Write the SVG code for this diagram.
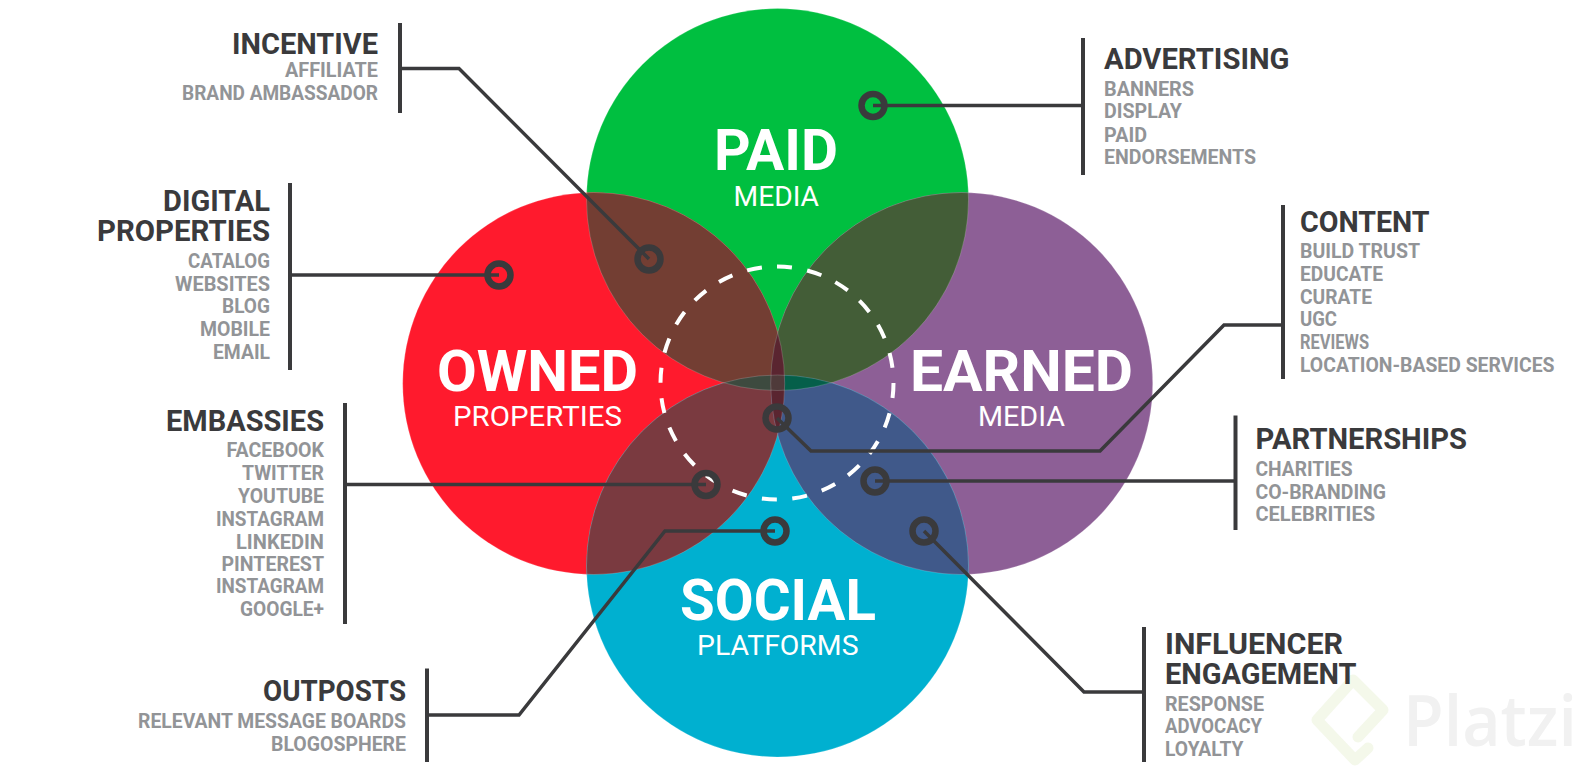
<svg xmlns="http://www.w3.org/2000/svg" width="1593" height="772" viewBox="0 0 1593 772">
<style>
text{font-family:Roboto,"Liberation Sans",sans-serif}
.h{font-size:29px;font-weight:700;fill:#3a3a3c}
.s{font-size:20px;font-weight:700;fill:#929497}
.b{font-size:58px;font-weight:700;fill:#fff}
.m{font-size:28px;font-weight:400;fill:#fff}
.l{fill:none;stroke:#3a3a3c;stroke-width:3.5}
.bar{fill:none;stroke:#3a3a3c;stroke-width:4}
.d{fill:none;stroke:#3a3a3c;stroke-width:6.5}
</style>
<defs>
<clipPath id="cPaid"><circle cx="777.5" cy="199.5" r="191"/></clipPath>
<clipPath id="cSocial"><circle cx="777.5" cy="566" r="191"/></clipPath>
<clipPath id="cOwned"><circle cx="593.7" cy="383.5" r="191"/></clipPath>
<clipPath id="cEarned"><circle cx="961.7" cy="383.5" r="191"/></clipPath>
</defs>
<rect width="1593" height="772" fill="#fff"/>
<g id="watermark">
<path d="M1368 748L1355 760L1317 720L1353 680L1383 710L1358 737" fill="none" stroke="#f4f8ea" stroke-width="11" stroke-linejoin="round" stroke-linecap="round"/>
<text x="1403" y="746" font-size="70" font-weight="600" textLength="174" lengthAdjust="spacingAndGlyphs" style="font-family:'Open Sans',sans-serif;fill:#f1f1f1">Platzi</text>
</g>
<g id="node-paid"><circle cx="777.5" cy="199.5" r="191" fill="#00bf40"/>
<text class="b" x="714" y="170" textLength="124" lengthAdjust="spacingAndGlyphs">PAID</text>
<text class="m" x="733.5" y="206" textLength="85.5" lengthAdjust="spacingAndGlyphs">MEDIA</text></g>
<g id="node-owned"><circle cx="593.7" cy="383.5" r="191" fill="#ff1a2d"/>
<text class="b" x="437" y="391" textLength="201" lengthAdjust="spacingAndGlyphs">OWNED</text>
<text class="m" x="453" y="426" textLength="169" lengthAdjust="spacingAndGlyphs">PROPERTIES</text></g>
<g id="node-earned"><circle cx="961.7" cy="383.5" r="191" fill="#8d5f96"/>
<text class="b" x="910" y="391" textLength="223" lengthAdjust="spacingAndGlyphs">EARNED</text>
<text class="m" x="978" y="426" textLength="87" lengthAdjust="spacingAndGlyphs">MEDIA</text></g>
<g id="node-social"><circle cx="777.5" cy="566" r="191" fill="#00b0d0"/>
<text class="b" x="680" y="620" textLength="196" lengthAdjust="spacingAndGlyphs">SOCIAL</text>
<text class="m" x="697" y="655" textLength="161.5" lengthAdjust="spacingAndGlyphs">PLATFORMS</text></g>
<g id="overlaps">
<g clip-path="url(#cPaid)"><circle cx="593.7" cy="383.5" r="191" fill="#733e33"/><circle cx="961.7" cy="383.5" r="191" fill="#435d37"/></g>
<g clip-path="url(#cSocial)"><circle cx="593.7" cy="383.5" r="191" fill="#7a3a40"/><circle cx="961.7" cy="383.5" r="191" fill="#40598a"/></g>
<g clip-path="url(#cOwned)"><circle cx="961.7" cy="383.5" r="191" fill="#5a2530"/></g>
<g clip-path="url(#cPaid)"><g clip-path="url(#cSocial)"><rect x="700" y="370" width="70.700" height="30" fill="#3d4a3f"/><rect x="770.700" y="370" width="14" height="30" fill="#4f3a3a"/><rect x="784.700" y="370" width="70" height="30" fill="#055f4a"/></g></g>
<g fill="none" stroke="#fff" stroke-opacity=".18">
<circle cx="777.5" cy="199.5" r="191"/><circle cx="777.5" cy="566" r="191"/><circle cx="593.7" cy="383.5" r="191"/><circle cx="961.7" cy="383.5" r="191"/></g>
</g>
<circle id="core" cx="777" cy="383" r="116.5" fill="none" stroke="#fff" stroke-width="4" stroke-dasharray="15 15.5" transform="rotate(-90 777 383)"/>
<g id="connectors">
<path class="l" d="M400 68.5H459L649 259"/>
<path class="l" d="M290 275H499"/>
<path class="l" d="M345 484.5H706"/>
<path class="l" d="M427 715H519L665 531H775"/>
<path class="l" d="M1083 105.5H873"/>
<path class="l" d="M1283 325H1224L1100 451H811L777 418"/>
<path class="l" d="M1235.5 481H875"/>
<path class="l" d="M1144 692H1084L924 531"/>
<circle class="d" cx="649" cy="259" r="11.5"/>
<circle class="d" cx="499" cy="275" r="11.5"/>
<circle class="d" cx="706" cy="484.5" r="11.5"/>
<circle class="d" cx="775" cy="531" r="11.5"/>
<circle class="d" cx="873" cy="105.5" r="11.5"/>
<circle class="d" cx="777" cy="418" r="11.5"/>
<circle class="d" cx="875" cy="481" r="11.5"/>
<circle class="d" cx="924" cy="531" r="11.5"/>
</g>
<g id="incentive"><path class="bar" d="M400 23V113"/>
<text class="h" x="232" y="54" textLength="146" lengthAdjust="spacingAndGlyphs">INCENTIVE</text>
<text class="s" x="285" y="77" textLength="93" lengthAdjust="spacingAndGlyphs">AFFILIATE</text>
<text class="s" x="182" y="100" textLength="196" lengthAdjust="spacingAndGlyphs">BRAND AMBASSADOR</text></g>
<g id="digital-properties"><path class="bar" d="M290 183V370"/>
<text class="h" x="163" y="211" textLength="107" lengthAdjust="spacingAndGlyphs">DIGITAL</text>
<text class="h" x="97" y="241" textLength="173" lengthAdjust="spacingAndGlyphs">PROPERTIES</text>
<text class="s" x="188" y="268" textLength="82" lengthAdjust="spacingAndGlyphs">CATALOG</text>
<text class="s" x="175" y="291" textLength="95" lengthAdjust="spacingAndGlyphs">WEBSITES</text>
<text class="s" x="222" y="313" textLength="48" lengthAdjust="spacingAndGlyphs">BLOG</text>
<text class="s" x="200" y="336" textLength="70" lengthAdjust="spacingAndGlyphs">MOBILE</text>
<text class="s" x="213" y="359" textLength="57" lengthAdjust="spacingAndGlyphs">EMAIL</text></g>
<g id="embassies"><path class="bar" d="M345 403V624"/>
<text class="h" x="166" y="431" textLength="158" lengthAdjust="spacingAndGlyphs">EMBASSIES</text>
<text class="s" x="226.500" y="457" textLength="97.500" lengthAdjust="spacingAndGlyphs">FACEBOOK</text>
<text class="s" x="242" y="480" textLength="82" lengthAdjust="spacingAndGlyphs">TWITTER</text>
<text class="s" x="238" y="503" textLength="86" lengthAdjust="spacingAndGlyphs">YOUTUBE</text>
<text class="s" x="216" y="526" textLength="108" lengthAdjust="spacingAndGlyphs">INSTAGRAM</text>
<text class="s" x="236" y="548.500" textLength="88" lengthAdjust="spacingAndGlyphs">LINKEDIN</text>
<text class="s" x="221.500" y="571" textLength="102.500" lengthAdjust="spacingAndGlyphs">PINTEREST</text>
<text class="s" x="216" y="593" textLength="108" lengthAdjust="spacingAndGlyphs">INSTAGRAM</text>
<text class="s" x="240" y="616" textLength="84" lengthAdjust="spacingAndGlyphs">GOOGLE+</text></g>
<g id="outposts"><path class="bar" d="M427 668.500V762"/>
<text class="h" x="263" y="701" textLength="143" lengthAdjust="spacingAndGlyphs">OUTPOSTS</text>
<text class="s" x="138" y="727.500" textLength="268" lengthAdjust="spacingAndGlyphs">RELEVANT MESSAGE BOARDS</text>
<text class="s" x="271" y="751" textLength="135" lengthAdjust="spacingAndGlyphs">BLOGOSPHERE</text></g>
<g id="advertising"><path class="bar" d="M1083 38V175"/>
<text class="h" x="1104" y="69" textLength="185.500" lengthAdjust="spacingAndGlyphs">ADVERTISING</text>
<text class="s" x="1104" y="95.500" textLength="90" lengthAdjust="spacingAndGlyphs">BANNERS</text>
<text class="s" x="1104" y="118" textLength="78" lengthAdjust="spacingAndGlyphs">DISPLAY</text>
<text class="s" x="1104" y="141.500" textLength="43" lengthAdjust="spacingAndGlyphs">PAID</text>
<text class="s" x="1104" y="163.500" textLength="152" lengthAdjust="spacingAndGlyphs">ENDORSEMENTS</text></g>
<g id="content"><path class="bar" d="M1283 205V379"/>
<text class="h" x="1300" y="231.500" textLength="129.500" lengthAdjust="spacingAndGlyphs">CONTENT</text>
<text class="s" x="1300" y="258" textLength="120" lengthAdjust="spacingAndGlyphs">BUILD TRUST</text>
<text class="s" x="1300" y="280.500" textLength="83" lengthAdjust="spacingAndGlyphs">EDUCATE</text>
<text class="s" x="1300" y="304" textLength="72" lengthAdjust="spacingAndGlyphs">CURATE</text>
<text class="s" x="1300" y="326" textLength="37" lengthAdjust="spacingAndGlyphs">UGC</text>
<text class="s" x="1300" y="348.500" textLength="69" lengthAdjust="spacingAndGlyphs">REVIEWS</text>
<text class="s" x="1300" y="372" textLength="254.500" lengthAdjust="spacingAndGlyphs">LOCATION-BASED SERVICES</text></g>
<g id="partnerships"><path class="bar" d="M1235.500 415.500V530"/>
<text class="h" x="1255.500" y="449" textLength="211.500" lengthAdjust="spacingAndGlyphs">PARTNERSHIPS</text>
<text class="s" x="1255.500" y="475.500" textLength="97" lengthAdjust="spacingAndGlyphs">CHARITIES</text>
<text class="s" x="1255.500" y="498.500" textLength="130.500" lengthAdjust="spacingAndGlyphs">CO-BRANDING</text>
<text class="s" x="1255.500" y="520.500" textLength="119.500" lengthAdjust="spacingAndGlyphs">CELEBRITIES</text></g>
<g id="influencer-engagement"><path class="bar" d="M1144 627V762"/>
<text class="h" x="1165" y="654" textLength="178" lengthAdjust="spacingAndGlyphs">INFLUENCER</text>
<text class="h" x="1165" y="684" textLength="191.500" lengthAdjust="spacingAndGlyphs">ENGAGEMENT</text>
<text class="s" x="1165" y="711" textLength="99" lengthAdjust="spacingAndGlyphs">RESPONSE</text>
<text class="s" x="1165" y="733" textLength="97" lengthAdjust="spacingAndGlyphs">ADVOCACY</text>
<text class="s" x="1165" y="756" textLength="78.500" lengthAdjust="spacingAndGlyphs">LOYALTY</text></g>
</svg>
